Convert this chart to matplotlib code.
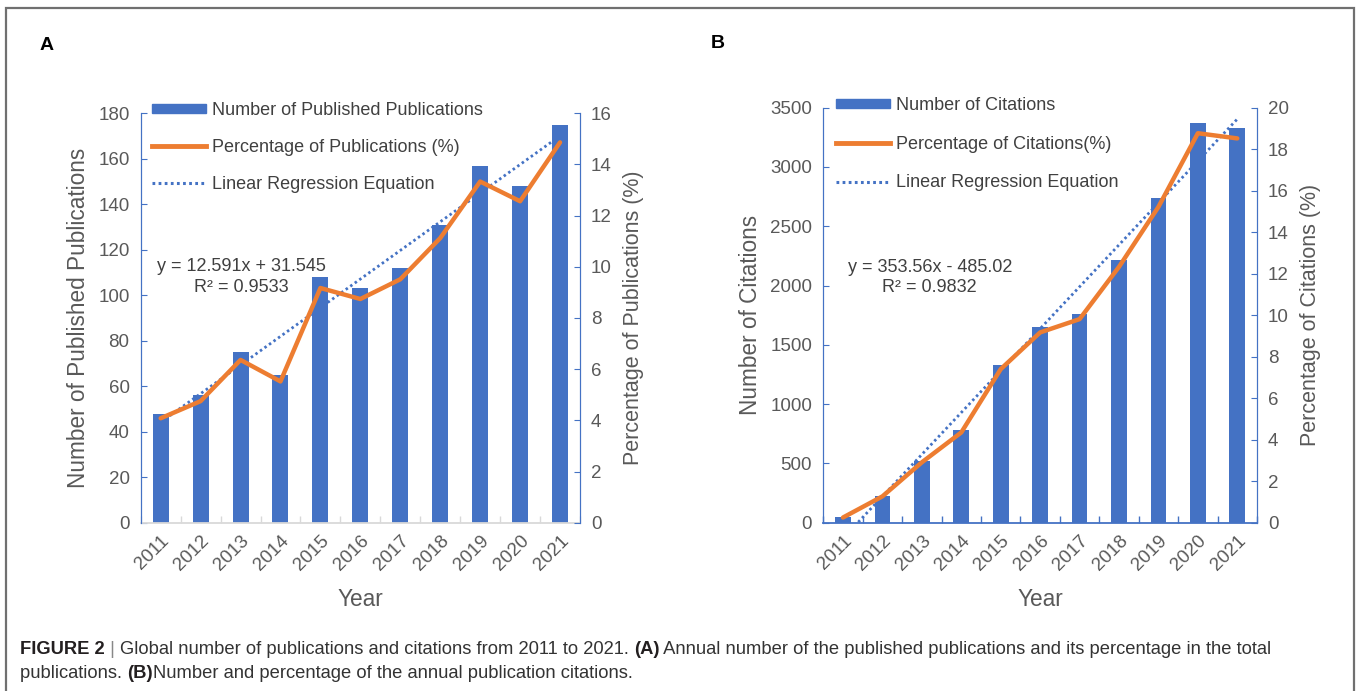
import numpy as np
import matplotlib
matplotlib.use('Agg')
import matplotlib.pyplot as plt
from matplotlib.patches import Patch, Rectangle
from matplotlib.lines import Line2D

## data
years = ['2011', '2012', '2013', '2014', '2015', '2016', '2017', '2018', '2019', '2020', '2021']

pubs = [48, 56, 75, 65, 108, 103, 112, 131, 157, 148, 175]
pubs_pct = [4.08, 4.75, 6.36, 5.52, 9.17, 8.74, 9.51, 11.12, 13.33, 12.56, 14.86]
pubs_eq = 'y = 12.591x + 31.545\nR\u00b2 = 0.9533'
pubs_fit = (12.591, 31.545)      # y = a*x + b, x = 1..11

cites = [45, 228, 523, 782, 1330, 1648, 1762, 2215, 2735, 3373, 3328]
cites_pct = [0.25, 1.27, 2.91, 4.35, 7.40, 9.17, 9.81, 12.33, 15.22, 18.77, 18.52]
cites_eq = 'y = 353.56x - 485.02\nR\u00b2 = 0.9832'
cites_fit = (353.56, -485.02)

BLUE = '#4472C4'
ORANGE = '#ED7D31'
GREY = '#595959'

plt.rcParams['font.family'] = ['Liberation Sans', 'DejaVu Sans']


def make_panel(rect, counts, pct, fit, eq, ymax, ystep, pmax,
               ylab, plab, leg_labels, leg_pos, leg_space, eq_pos, bottom_color):
    ax = fig.add_axes(rect)
    x = np.arange(len(years))
    ax.bar(x, counts, width=0.4, color=BLUE, zorder=2)

    # trendline from the printed equation
    ax.plot(x, fit[0] * (x + 1) + fit[1], ls=(0, (0.9, 1.1)), lw=2.0, color=BLUE, zorder=3)

    ax.set_xlim(-0.5, len(years) - 0.5)
    ax.set_ylim(0, ymax)
    ax.set_yticks(np.arange(0, ymax + 1, ystep))
    ax.set_xticks(x)
    ax.set_xticklabels(years, rotation=45, ha='right', rotation_mode='anchor',
                       fontsize=13.5, color=GREY)
    ax.tick_params(axis='x', length=0, pad=7)
    # ticks between categories
    ax.set_xticks(np.arange(-0.5, len(years) + 0.5, 1), minor=True)
    ax.tick_params(axis='x', which='minor', direction='in', length=5,
                   color=bottom_color, width=1)
    ax.tick_params(axis='y', direction='in', length=4, color=BLUE,
                   labelsize=13.5, labelcolor=GREY, pad=8)
    ax.spines['top'].set_visible(False)
    ax.spines['left'].set_color(BLUE)
    ax.spines['right'].set_color(BLUE)
    ax.spines['bottom'].set_color(bottom_color)
    ax.spines['bottom'].set_linewidth(1.3)
    ax.set_ylabel(ylab, fontsize=16.3, color=GREY, labelpad=6)
    ax.set_xlabel('Year', fontsize=16.3, color=GREY, labelpad=10)

    ax2 = ax.twinx()
    ax2.plot(x, pct, color=ORANGE, lw=3.2, solid_joinstyle='round',
             solid_capstyle='round', zorder=4)
    ax2.set_ylim(0, pmax)
    ax2.set_yticks(np.arange(0, pmax + 1, 2))
    ax2.tick_params(axis='y', direction='in', length=4, color=BLUE,
                    labelsize=13.5, labelcolor=GREY, pad=8)
    ax2.spines['top'].set_visible(False)
    ax2.spines['right'].set_color(BLUE)
    ax2.spines['left'].set_color(BLUE)
    ax2.spines['bottom'].set_visible(False)
    ax2.set_ylabel(plab, fontsize=15.5, color=GREY, labelpad=8)

    ax.text(eq_pos[0], eq_pos[1], eq, ha='center', va='center', multialignment='center',
            linespacing=1.25, fontsize=13, color='#404040')

    handles = [Patch(color=BLUE),
               Line2D([0], [0], color=ORANGE, lw=3.5),
               Line2D([0], [0], color=BLUE, lw=2.2, ls=(0, (0.9, 1.1)))]
    fig.legend(handles, leg_labels, loc='upper left', bbox_to_anchor=leg_pos,
               frameon=False, fontsize=13, handlelength=3.0, handleheight=0.45,
               handletextpad=0.3, labelspacing=leg_space, borderpad=0, borderaxespad=0,
               labelcolor='#404040')
    return ax


fig = plt.figure(figsize=(13.57, 6.91), dpi=100)
W, H = 1357.0, 691.0

# outer frame
fig.add_artist(Rectangle((6 / W, -0.05), (1354 - 6) / W, 1.05 - 8 / H,
                         transform=fig.transFigure, fill=False,
                         ec='#707070', lw=1.6))

make_panel([140.7 / W, 168.3 / H, 439.3 / W, 409.5 / H], pubs, pubs_pct, pubs_fit, pubs_eq,
           180, 20, 16, 'Number of Published Publications', 'Percentage of Publications (%)',
           ['Number of Published Publications', 'Percentage of Publications (%)',
            'Linear Regression Equation'],
           (152 / W, 1 - 102 / H), 1.1, (2.03, 108), '#D9D9D9')

make_panel([823.3 / W, 168.3 / H, 433.7 / W, 415 / H], cites, cites_pct, cites_fit, cites_eq,
           3500, 500, 20, 'Number of Citations', 'Percentage of Citations (%)',
           ['Number of Citations', 'Percentage of Citations(%)', 'Linear Regression Equation'],
           (836 / W, 1 - 97 / H), 1.2, (2.2, 2070), BLUE)

fig.text(40 / W, 1 - 45 / H, 'A', fontsize=14, fontweight='bold', va='center')
fig.text(711 / W, 1 - 43 / H, 'B', fontsize=14, fontweight='bold', va='center')

# caption with mixed bold/normal runs
lines = [
    [('FIGURE 2', 'bold', '#231F20'), (' | ', 'normal', '#888888'),
     ('Global number of publications and citations from 2011 to 2021. ', 'normal', '#333333'),
     ('(A)', 'bold', '#231F20'),
     (' Annual number of the published publications and its percentage in the total', 'normal', '#333333')],
    [('publications. ', 'normal', '#333333'), ('(B)', 'bold', '#231F20'),
     ('Number and percentage of the annual publication citations.', 'normal', '#333333')],
]
renderer = fig.canvas.get_renderer()
for row, ypix in zip(lines, [649, 673]):
    xpix = 20.0
    for txt, wt, col in row:
        t = fig.text(xpix / W, 1 - ypix / H, txt, fontsize=13.2, fontweight=wt,
                     color=col, va='center')
        xpix += t.get_window_extent(renderer).width

fig.savefig('out.png', dpi=100)
